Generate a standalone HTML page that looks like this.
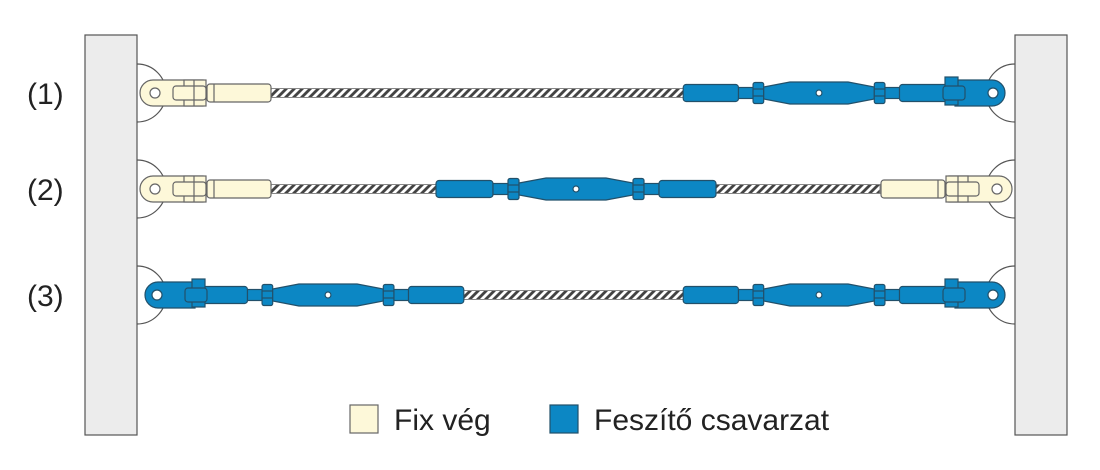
<!DOCTYPE html>
<html><head><meta charset="utf-8"><style>
html,body{margin:0;padding:0;background:#fff;}
svg{display:block}
text{font-family:"Liberation Sans",sans-serif;fill:#222}
</style></head><body>
<svg width="1100" height="470" viewBox="0 0 1100 470" xmlns="http://www.w3.org/2000/svg">
<defs>
<pattern id="rope" width="8" height="10" patternUnits="userSpaceOnUse" patternTransform="skewX(-45)">
<rect width="8" height="10" fill="#fff"/><rect width="4" height="10" fill="#444"/>
</pattern>
<g id="core" stroke="#22506a" stroke-width="1.2" fill="#0c87c4">
<rect x="-140" y="-8.5" width="57" height="17" rx="3"/>
<rect x="-83" y="-5.5" width="15" height="11"/>
<rect x="-68" y="-10.5" width="11" height="21" rx="2"/>
<line x1="-68" y1="-4" x2="-57" y2="-4"/><line x1="-68" y1="3" x2="-57" y2="3"/>
<path d="M-57,-6 L-30,-11 L30,-11 L57,-6 L57,6 L30,11 L-30,11 L-57,6 Z"/>
<rect x="57" y="-10.5" width="11" height="21" rx="2"/>
<line x1="57" y1="-4" x2="68" y2="-4"/><line x1="57" y1="3" x2="68" y2="3"/>
<rect x="68" y="-5.5" width="15" height="11"/>
<rect x="83" y="-8.5" width="57" height="17" rx="3"/>
<circle cx="0" cy="0" r="3" fill="#fff"/>
</g>
<g id="blueR" stroke="#22506a" stroke-width="1.2" fill="#0c87c4">
<path d="M0,-13 H37 A13,13 0 0 1 37,13 H0 Z"/>
<rect x="-10" y="-16" width="13" height="28"/>
<rect x="-12" y="-7" width="22" height="14" rx="3"/>
<circle cx="38" cy="0" r="5" fill="#fff"/>
</g>
<g id="fixL" stroke="#666" stroke-width="1.2" fill="#fdf8d9">
<path d="M63,-13 H13 A13,13 0 0 0 13,13 H63 Z"/>
<rect x="44" y="-13" width="22" height="26"/>
<rect x="33" y="-7" width="33" height="14" rx="3"/>
<line x1="54" y1="-13" x2="54" y2="13"/>
<rect x="67" y="-9" width="64" height="18" rx="3"/>
<line x1="74" y1="-9" x2="74" y2="9"/>
<circle cx="15" cy="0" r="5" fill="#fff"/>
</g>
<path id="arcL" d="M0,-29 A29,29 0 0 1 0,29" fill="none" stroke="#555" stroke-width="1.2"/>
</defs>

<rect x="85" y="35" width="52" height="400" fill="#ececec" stroke="#555" stroke-width="1.2"/>
<rect x="1015" y="35" width="52" height="400" fill="#ececec" stroke="#555" stroke-width="1.2"/>

<text x="27" y="104" font-size="30">(1)</text>
<text x="27" y="200" font-size="30">(2)</text>
<text x="27" y="306" font-size="30">(3)</text>

<g transform="translate(0,93)">
<use href="#arcL" x="137"/>
<use href="#arcL" transform="translate(1015,0) scale(-1,1)"/>
<rect x="270" y="-4.5" width="415" height="9" fill="url(#rope)" stroke="#888" stroke-width="1"/>
<use href="#fixL" x="140"/>
<g transform="translate(819,0) scale(0.97,1)"><use href="#core"/></g>
<use href="#blueR" x="955"/>
</g>

<g transform="translate(0,189)">
<use href="#arcL" x="137"/>
<use href="#arcL" transform="translate(1015,0) scale(-1,1)"/>
<rect x="270" y="-4.5" width="610" height="9" fill="url(#rope)" stroke="#888" stroke-width="1"/>
<use href="#fixL" x="140"/>
<use href="#fixL" transform="translate(1012,0) scale(-1,1)"/>
<use href="#core" x="576"/>
</g>

<g transform="translate(0,295)">
<use href="#arcL" x="137"/>
<use href="#arcL" transform="translate(1015,0) scale(-1,1)"/>
<rect x="460" y="-4.5" width="225" height="9" fill="url(#rope)" stroke="#888" stroke-width="1"/>
<g transform="translate(328,0) scale(0.97,1)"><use href="#core"/></g>
<use href="#blueR" transform="translate(195,0) scale(-1,1)"/>
<g transform="translate(819,0) scale(0.97,1)"><use href="#core"/></g>
<use href="#blueR" x="955"/>
</g>

<rect x="350" y="405" width="28" height="28" fill="#fdf8d9" stroke="#666" stroke-width="1.2"/>
<text x="394" y="430" font-size="30">Fix vég</text>
<rect x="550" y="405" width="28" height="28" fill="#0c87c4" stroke="#22506a" stroke-width="1.2"/>
<text x="594" y="430" font-size="30">Feszítő csavarzat</text>
</svg>
</body></html>
